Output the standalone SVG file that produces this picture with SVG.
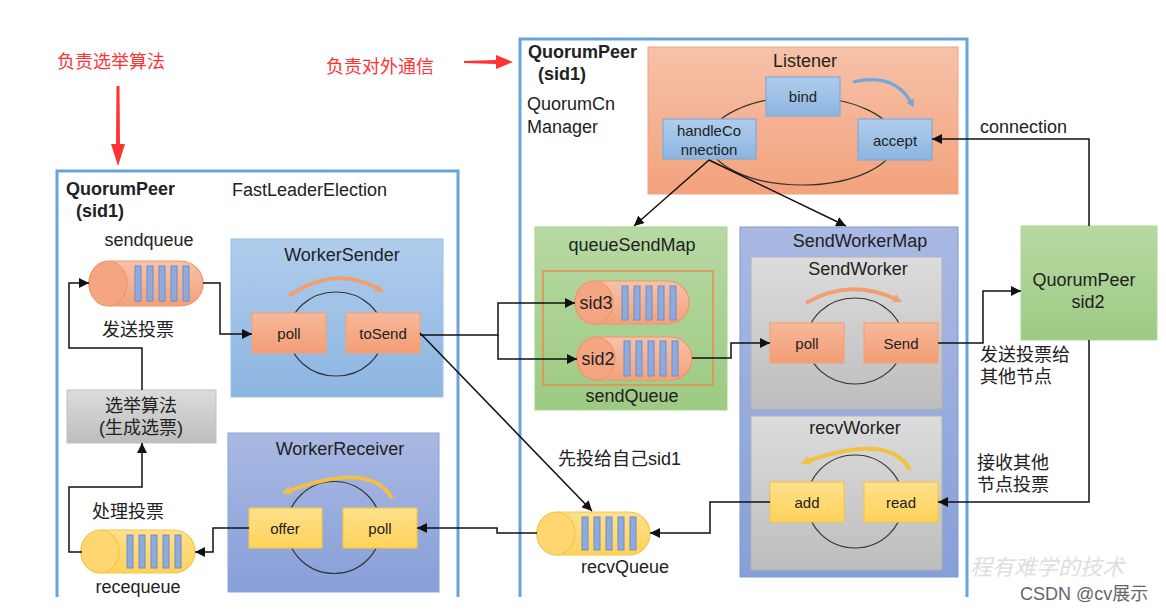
<svg xmlns="http://www.w3.org/2000/svg" width="1166" height="612" viewBox="0 0 1166 612">
<defs>
<linearGradient id="gOrange" x1="0" y1="0" x2="0" y2="1"><stop offset="0" stop-color="#f6c2a9"/><stop offset="1" stop-color="#f3a27c"/></linearGradient>
<linearGradient id="gBlue" x1="0" y1="0" x2="0" y2="1"><stop offset="0" stop-color="#b0cdec"/><stop offset="1" stop-color="#8cb5e1"/></linearGradient>
<linearGradient id="gPurple" x1="0" y1="0" x2="0" y2="1"><stop offset="0" stop-color="#a9b9e3"/><stop offset="1" stop-color="#879fd8"/></linearGradient>
<linearGradient id="gGreen" x1="0" y1="0" x2="0" y2="1"><stop offset="0" stop-color="#b7d9a3"/><stop offset="1" stop-color="#9dca83"/></linearGradient>
<linearGradient id="gGray" x1="0" y1="0" x2="0" y2="1"><stop offset="0" stop-color="#dcdcdc"/><stop offset="1" stop-color="#bdbdbd"/></linearGradient>
<linearGradient id="gYellow" x1="0" y1="0" x2="0" y2="1"><stop offset="0" stop-color="#ffe08c"/><stop offset="1" stop-color="#ffd25a"/></linearGradient>
<linearGradient id="gOBox" x1="0" y1="0" x2="0" y2="1"><stop offset="0" stop-color="#f7b99b"/><stop offset="1" stop-color="#f39c74"/></linearGradient>
<marker id="ah" viewBox="0 0 10 10" refX="10" refY="5" markerWidth="10" markerHeight="10" markerUnits="userSpaceOnUse" orient="auto"><path d="M0,0 L10,5 L0,10 z" fill="#111"/></marker>
<marker id="ahO" viewBox="0 0 10 10" refX="5" refY="5" markerWidth="9" markerHeight="9" markerUnits="userSpaceOnUse" orient="auto"><path d="M0,0 L10,5 L0,10 z" fill="#f0a070"/></marker>
<marker id="ahY" viewBox="0 0 10 10" refX="5" refY="5" markerWidth="9" markerHeight="9" markerUnits="userSpaceOnUse" orient="auto"><path d="M0,0 L10,5 L0,10 z" fill="#f3c040"/></marker>
<marker id="ahB" viewBox="0 0 10 10" refX="5" refY="5" markerWidth="8" markerHeight="8" markerUnits="userSpaceOnUse" orient="auto"><path d="M0,0 L10,5 L0,10 z" fill="#6fa8dc"/></marker>
<style>
text{font-family:"Liberation Sans","Noto Sans CJK SC",sans-serif;fill:#222;}
.t18{font-size:18px;}
.t15{font-size:15px;}
.b{font-weight:bold;}
.m{text-anchor:middle;}
.red{fill:#ff3333;font-size:18px;}
.cont{fill:none;stroke:#6aa3dc;stroke-width:3;}
.ob{fill:url(#gOBox);stroke:#f2a27e;stroke-width:1.2;}
.bb{fill:url(#gBlue);stroke:#7faadb;stroke-width:1.2;}
.yb{fill:url(#gYellow);stroke:#f2c64a;stroke-width:1.2;}
.loop{fill:none;stroke:#333;stroke-width:1.2;}
.bar{fill:#8faadc;stroke:#6c8ccb;stroke-width:1;}
.qo{fill:url(#gOrange);stroke:#f0956a;stroke-width:1.2;}
.qoc{fill:#f4a682;stroke:#f0956a;stroke-width:1.2;}
.qy{fill:url(#gYellow);stroke:#f2c64a;stroke-width:1.2;}
.qyc{fill:#ffd670;stroke:#f2c64a;stroke-width:1.2;}
.ln{fill:none;stroke:#111;stroke-width:1.5;}
</style>
</defs>
<rect width="1166" height="612" fill="#ffffff"/>

<g id="annotations">
<text class="red" x="57" y="68">负责选举算法</text>
<polygon points="116.5,86 119.5,86 120,144 125,144 118,166 111,144 116,144" fill="#ff3333"/>
<text class="red" x="326" y="73">负责对外通信</text>
<polygon points="464,61 496,60 496,55 513,62 496,69 496,64 464,63" fill="#ff3333"/>
</g>

<g id="peer-left">
<path class="cont" d="M57,597 V171 H458 V597"/>
<text class="t18 b" x="66" y="195">QuorumPeer</text>
<text class="t18 b" x="76" y="217">(sid1)</text>
<text class="t18" x="232" y="196">FastLeaderElection</text>
</g>

<g id="peer-right">
<path class="cont" d="M520,597 V39 H967 V597"/>
<text class="t18 b" x="528" y="58">QuorumPeer</text>
<text class="t18 b" x="538" y="80">(sid1)</text>
<text class="t18" x="527" y="110">QuorumCn</text>
<text class="t18" x="527" y="133">Manager</text>
</g>

<g id="sendqueue">
<text class="t18 m" x="149" y="246">sendqueue</text>
<rect class="qo" x="89" y="261" width="114" height="45" rx="22.5"/>
<ellipse class="qoc" cx="108" cy="283.5" rx="19" ry="22.5"/>
<rect class="bar" x="135" y="266" width="6" height="35"/>
<rect class="bar" x="147" y="266" width="6" height="35"/>
<rect class="bar" x="159" y="266" width="6" height="35"/>
<rect class="bar" x="171" y="266" width="6" height="35"/>
<rect class="bar" x="183" y="266" width="6" height="35"/>
</g>
<text class="t18" x="102" y="336">发送投票</text>

<g id="election">
<rect x="67" y="390" width="149" height="53" fill="url(#gGray)" stroke="#c0c0c0"/>
<text class="t18 m" x="141" y="412">选举算法</text>
<text class="t18 m" x="141" y="434">(生成选票)</text>
</g>

<text class="t18" x="92" y="518">处理投票</text>
<g id="recequeue">
<rect class="qy" x="81" y="530" width="114" height="43" rx="21.5"/>
<ellipse class="qyc" cx="100" cy="551.5" rx="19" ry="21.5"/>
<rect class="bar" x="127" y="535" width="6" height="33"/>
<rect class="bar" x="139" y="535" width="6" height="33"/>
<rect class="bar" x="151" y="535" width="6" height="33"/>
<rect class="bar" x="163" y="535" width="6" height="33"/>
<rect class="bar" x="175" y="535" width="6" height="33"/>
<text class="t18 m" x="138" y="593">recequeue</text>
</g>

<g id="worker-sender">
<rect x="231" y="239" width="212" height="158" fill="url(#gBlue)" stroke="#9cc0e6"/>
<text class="t18 m" x="342" y="261">WorkerSender</text>
<ellipse class="loop" cx="336" cy="334" rx="47" ry="42"/>
<path d="M289,296 Q336,264 380,290" fill="none" stroke="#f0a070" stroke-width="4" marker-end="url(#ahO)"/>
<rect class="ob" x="252" y="313" width="74" height="40"/>
<text class="t15 m" x="289" y="339">poll</text>
<rect class="ob" x="346" y="313" width="74" height="40"/>
<text class="t15 m" x="383" y="339">toSend</text>
</g>

<g id="worker-receiver">
<rect x="228" y="433" width="211" height="159" fill="url(#gPurple)" stroke="#8aa3d8"/>
<text class="t18 m" x="340" y="455">WorkerReceiver</text>
<ellipse class="loop" cx="334" cy="527.5" rx="47" ry="46"/>
<path d="M392,498 Q370,460 286,492" fill="none" stroke="#f3c040" stroke-width="4" marker-end="url(#ahY)"/>
<rect class="yb" x="249" y="508" width="73" height="40"/>
<text class="t15 m" x="285" y="534">offer</text>
<rect class="yb" x="343" y="508" width="74" height="40"/>
<text class="t15 m" x="380" y="534">poll</text>
</g>

<g id="listener">
<rect x="648" y="47" width="310" height="147" fill="url(#gOrange)" stroke="#f2a282"/>
<text class="t18 m" x="805" y="67">Listener</text>
<ellipse class="loop" cx="802" cy="141" rx="93" ry="44"/>
<path d="M853,82 Q895,72 912,104" fill="none" stroke="#6fa8dc" stroke-width="3" marker-end="url(#ahB)"/>
<rect class="bb" x="766" y="77" width="74" height="39"/>
<text class="t15 m" x="803" y="102">bind</text>
<rect class="bb" x="663" y="119" width="93" height="40"/>
<text class="t15 m" x="709" y="136">handleCo</text>
<text class="t15 m" x="709" y="155">nnection</text>
<rect class="bb" x="858" y="119" width="74" height="41"/>
<text class="t15 m" x="895" y="146">accept</text>
</g>

<g id="queue-send-map">
<rect x="535" y="227" width="192" height="183" fill="url(#gGreen)" stroke="#a8d290"/>
<text class="t18 m" x="632" y="251">queueSendMap</text>
<rect x="543" y="271" width="170" height="114" fill="none" stroke="#ed8a4a" stroke-width="1.5"/>
<rect class="qo" x="575" y="281" width="114" height="43" rx="21.5"/>
<ellipse class="qoc" cx="594" cy="302.5" rx="19" ry="21.5"/>
<rect class="bar" x="622" y="286" width="6" height="34"/>
<rect class="bar" x="634" y="286" width="6" height="34"/>
<rect class="bar" x="646" y="286" width="6" height="34"/>
<rect class="bar" x="658" y="286" width="6" height="34"/>
<rect class="bar" x="670" y="286" width="6" height="34"/>
<text class="t18 m" x="596" y="309">sid3</text>
<rect class="qo" x="577" y="337" width="115" height="43" rx="21.5"/>
<ellipse class="qoc" cx="596" cy="358.5" rx="19" ry="21.5"/>
<rect class="bar" x="624" y="341" width="6" height="35"/>
<rect class="bar" x="636" y="341" width="6" height="35"/>
<rect class="bar" x="648" y="341" width="6" height="35"/>
<rect class="bar" x="660" y="341" width="6" height="35"/>
<rect class="bar" x="672" y="341" width="6" height="35"/>
<text class="t18 m" x="598" y="365">sid2</text>
<text class="t18 m" x="632" y="402">sendQueue</text>
</g>

<g id="send-worker-map">
<rect x="740" y="227" width="218" height="350" fill="url(#gPurple)" stroke="#7f9ad3"/>
<text class="t18 m" x="860" y="247">SendWorkerMap</text>
</g>

<g id="send-worker">
<rect x="751" y="257" width="191" height="152" fill="url(#gGray)" stroke="#b3b3b3"/>
<text class="t18 m" x="858" y="275">SendWorker</text>
<ellipse class="loop" cx="855" cy="341" rx="48" ry="43"/>
<path d="M806,303 Q850,277 898,300" fill="none" stroke="#f0a070" stroke-width="4" marker-end="url(#ahO)"/>
<rect class="ob" x="770" y="323" width="74" height="40"/>
<text class="t15 m" x="807" y="349">poll</text>
<rect class="ob" x="864" y="323" width="74" height="40"/>
<text class="t15 m" x="901" y="349">Send</text>
</g>

<g id="recv-worker">
<rect x="751" y="416" width="191" height="154" fill="url(#gGray)" stroke="#b3b3b3"/>
<text class="t18 m" x="855" y="434">recvWorker</text>
<ellipse class="loop" cx="855" cy="501.5" rx="48" ry="46.5"/>
<path d="M910,470 Q890,432 805,462" fill="none" stroke="#f3c040" stroke-width="4" marker-end="url(#ahY)"/>
<rect class="yb" x="770" y="482" width="74" height="40"/>
<text class="t15 m" x="807" y="508">add</text>
<rect class="yb" x="864" y="482" width="74" height="40"/>
<text class="t15 m" x="901" y="508">read</text>
</g>

<g id="recv-queue">
<rect class="qy" x="537" y="512" width="113" height="43" rx="21.5"/>
<ellipse class="qyc" cx="556" cy="533.5" rx="19" ry="21.5"/>
<rect class="bar" x="582" y="517" width="6" height="33"/>
<rect class="bar" x="594" y="517" width="6" height="33"/>
<rect class="bar" x="606" y="517" width="6" height="33"/>
<rect class="bar" x="618" y="517" width="6" height="33"/>
<rect class="bar" x="630" y="517" width="6" height="33"/>
<text class="t18 m" x="625" y="573">recvQueue</text>
</g>

<g id="peer-sid2">
<rect x="1021" y="226" width="136" height="114" fill="url(#gGreen)" stroke="#b0d89a"/>
<text class="t18 m" x="1084" y="286">QuorumPeer</text>
<text class="t18 m" x="1088" y="308">sid2</text>
</g>

<g id="connectors">
<path class="ln" d="M203,283 H220 V334 H252" marker-end="url(#ah)"/>
<path class="ln" d="M142,390 V348 H69 V283 H89" marker-end="url(#ah)"/>
<path class="ln" d="M82,552 H69 V487 H142 V443" marker-end="url(#ah)"/>
<path class="ln" d="M249,528 H213 V552 H195" marker-end="url(#ah)"/>
<path class="ln" d="M420,335 H498 V303 H575" marker-end="url(#ah)"/>
<path class="ln" d="M498,335 V359 H577" marker-end="url(#ah)"/>
<path class="ln" d="M420,333 L592,511" marker-end="url(#ah)"/>
<path class="ln" d="M537,533 H497 V528 H417" marker-end="url(#ah)"/>
<path class="ln" d="M770,502 H710 V533 H650" marker-end="url(#ah)"/>
<path class="ln" d="M692,358 H731 V343 H770" marker-end="url(#ah)"/>
<path class="ln" d="M709,160 L634,226" marker-end="url(#ah)"/>
<path class="ln" d="M709,160 L846,226" marker-end="url(#ah)"/>
<path class="ln" d="M938,343 H983 V291 H1021" marker-end="url(#ah)"/>
<path class="ln" d="M1089,226 V139 H932" marker-end="url(#ah)"/>
<path class="ln" d="M1089,340 V502 H938" marker-end="url(#ah)"/>
</g>

<g id="labels">
<text class="t18" x="980" y="133">connection</text>
<text class="t18" x="980" y="361">发送投票给</text>
<text class="t18" x="980" y="383">其他节点</text>
<text class="t18" x="977" y="469">接收其他</text>
<text class="t18" x="977" y="491">节点投票</text>
<text class="t18" x="558" y="465">先投给自己sid1</text>
</g>

<g id="watermark">
<text x="970" y="575" style="font-family:'Noto Sans CJK SC',sans-serif;font-size:22px;font-style:italic;fill:#dedede;">程有难学的技术</text>
<text x="1020" y="600" style="font-size:18px;fill:#666666;">CSDN @cv展示</text>
</g>
</svg>
